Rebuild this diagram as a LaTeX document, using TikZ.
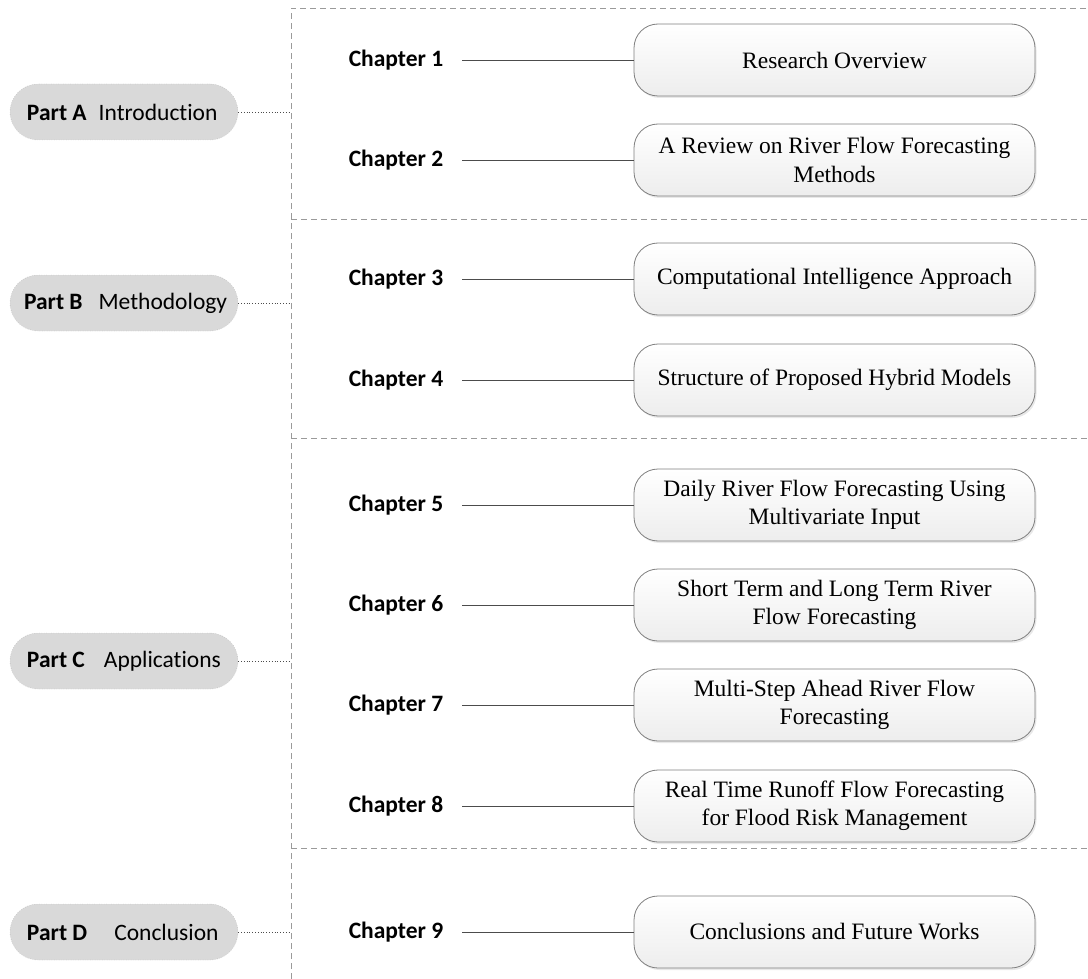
\documentclass[tikz,border=0pt]{standalone}
\usepackage{fontspec}
\setmainfont{Liberation Serif}
\newfontfamily\calfont[Ligatures=NoCommon]{Carlito}
\usetikzlibrary{shadows}
\definecolor{frameline}{HTML}{9A9A9A}
\definecolor{partfill}{HTML}{D9D9D9}
\definecolor{boxline}{HTML}{7F7F7F}
\begin{document}
\begin{tikzpicture}[x=1pt,y=-1pt,
  partbox/.style={draw=gray!70, dotted, fill=partfill, rounded corners=28pt,
    minimum width=228pt, minimum height=56pt, inner sep=0pt,
    font=\calfont\fontsize{23.5}{28}\selectfont},
  chaplabel/.style={font=\calfont\bfseries\fontsize{23.5}{28}\selectfont,
    inner sep=0pt, outer xsep=19pt},
  chapbox/.style={draw=boxline, line width=0.8pt, rounded corners=24pt,
    top color=white, bottom color=gray!14,
    drop shadow={shadow xshift=1.5pt, shadow yshift=-2pt, fill=gray!35, opacity=0.5},
    minimum width=401pt, minimum height=72pt, inner sep=0pt, align=center,
    font=\fontsize{23.5}{28.5}\selectfont},
  link/.style={draw=black!70, line width=0.7pt},
  partlink/.style={draw=black!70, line width=0.8pt, dotted},
  frame/.style={draw=frameline, line width=0.8pt, dash pattern=on 6pt off 4pt}
]
\useasboundingbox (0,0) rectangle (1088,979);

% dashed frame and section dividers
\draw[frame] (291,979) -- (291,8) -- (1088,8);
\draw[frame] (291,219) -- (1088,219);
\draw[frame] (291,438) -- (1088,438);
\draw[frame] (291,848) -- (1088,848);

% parts
\node[partbox] (pA) at (124,112) {\makebox[194pt][l]{\textbf{Part A}\hspace{12pt}Introduction}};
\node[partbox] (pB) at (124,303) {\makebox[200pt][l]{\textbf{Part B}\hspace{16pt}Methodology}};
\node[partbox] (pC) at (124,661) {\makebox[194pt][l]{\textbf{Part C}\hspace{19pt}Applications}};
\node[partbox] (pD) at (124,932) {\makebox[194pt][l]{\textbf{Part D}\hspace{27pt}Conclusion}};

\coordinate (jA) at (291,112);
\coordinate (jB) at (291,303);
\coordinate (jC) at (291,661);
\coordinate (jD) at (291,932);
\draw[partlink] (pA.east) -- (jA);
\draw[partlink] (pB.east) -- (jB);
\draw[partlink] (pC.east) -- (jC);
\draw[partlink] (pD.east) -- (jD);

% chapters
\foreach \n/\y/\t in {
  1/60/{Research Overview},
  2/160/{A Review on River Flow Forecasting\\Methods},
  3/279/{Computational Intelligence Approach},
  4/380/{Structure of Proposed Hybrid Models},
  5/505/{Daily River Flow Forecasting Using\\Multivariate Input},
  6/605/{Short Term and Long Term River\\Flow Forecasting},
  7/705/{Multi-Step Ahead River Flow\\Forecasting},
  8/806/{Real Time Runoff Flow Forecasting\\for Flood Risk Management},
  9/932/{Conclusions and Future Works}}
{
  \node[chaplabel] (c\n) at (396,\y) {Chapter \n};
  \node[chapbox] (b\n) at (834.5,\y) {\t};
  \draw[link] (c\n.east) -- (b\n.west);
}
\end{tikzpicture}
\end{document}
